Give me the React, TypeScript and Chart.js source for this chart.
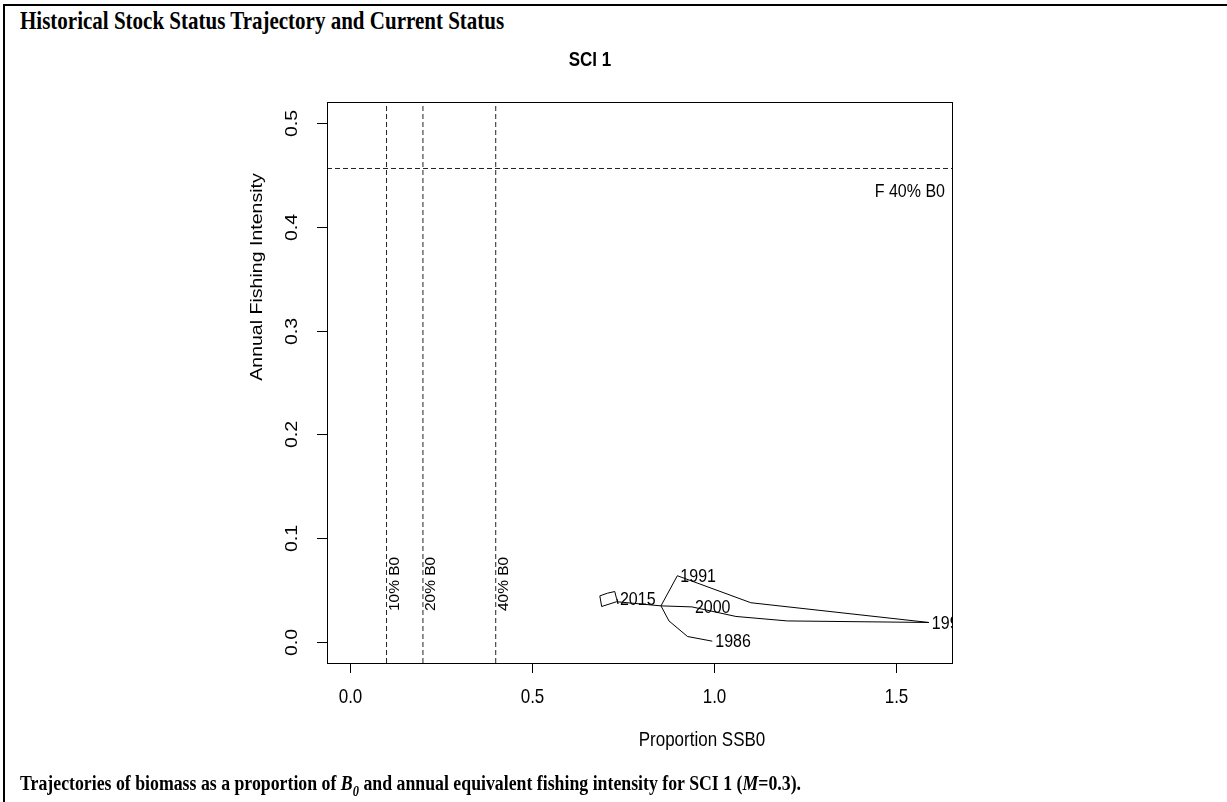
import React, { useEffect, useRef } from 'react';
import { Chart, registerables } from 'chart.js';

Chart.register(...registerables);

// Trajectory of spawning stock biomass (proportion of SSB0) against annual fishing intensity
const ssbProportion = [0.995, 0.927, 0.876, 0.854, 0.899, 1.101, 1.59, 1.201, 1.06, 0.939, 0.854, 0.732, 0.691, 0.686, 0.707, 0.727, 0.732, 0.736, 0.733];
const fishingIntensity = [0.001, 0.0055, 0.0205, 0.035, 0.064, 0.038, 0.019, 0.0205, 0.0248, 0.034, 0.035, 0.039, 0.0344, 0.0446, 0.0472, 0.0488, 0.042, 0.037, 0.042];
const pointLabels = ['1986', '', '', '', '1991', '', '1995', '', '', '2000', '', '', '', '', '', '', '', '', '2015'];

// Reference points
const biomassRefs = [0.1, 0.2, 0.4];
const biomassRefLabels = ['10% B0', '20% B0', '40% B0'];
const fishingRef = 0.456;
const fishingRefLabel = 'F 40% B0';

// Axis ticks and limits
const xTicks = [0, 0.5, 1.0, 1.5];
const xTickLabels = ['0.0', '0.5', '1.0', '1.5'];
const yTicks = [0, 0.1, 0.2, 0.3, 0.4, 0.5];
const yTickLabels = ['0.0', '0.1', '0.2', '0.3', '0.4', '0.5'];
const xLimits = [0, 1.59];
const yLimits = [0, 0.5];

const SANS = '"Liberation Sans", Arial, sans-serif';
const INK = '#000';
// the figure is taller than it is wide in device units, so glyphs are stretched vertically
const STRETCH = 1.15;

const ext = (lim: number[]) => {
  const d = (lim[1] - lim[0]) * 0.04;
  return [lim[0] - d, lim[1] + d];
};

// text laid horizontally
function hText(ctx: CanvasRenderingContext2D, s: string, x: number, y: number) {
  ctx.save();
  ctx.translate(x, y);
  ctx.scale(1, STRETCH);
  ctx.fillText(s, 0, 0);
  ctx.restore();
}

// text reading bottom to top
function vText(ctx: CanvasRenderingContext2D, s: string, x: number, y: number, k = STRETCH) {
  ctx.save();
  ctx.translate(x, y);
  ctx.rotate(-Math.PI / 2);
  ctx.scale(k, 1);
  ctx.fillText(s, 0, 0);
  ctx.restore();
}

const rPlotDecor = {
  id: 'rPlotDecor',
  afterDatasetsDraw(chart: any) {
    const { ctx, chartArea: a, scales } = chart;
    const xs = scales.x;
    const ys = scales.y;
    ctx.save();

    // year labels, clipped to the plot region
    ctx.save();
    ctx.beginPath();
    ctx.rect(a.left, a.top, a.right - a.left, a.bottom - a.top);
    ctx.clip();
    ctx.fillStyle = INK;
    ctx.font = `16px ${SANS}`;
    ctx.textAlign = 'left';
    ctx.textBaseline = 'middle';
    pointLabels.forEach((lab, i) => {
      if (!lab) return;
      const px = xs.getPixelForValue(ssbProportion[i]);
      const py = ys.getPixelForValue(fishingIntensity[i]);
      hText(ctx, lab, px + 3, py + 1);
    });

    // reference labels
    ctx.textAlign = 'right';
    hText(ctx, fishingRefLabel, a.right - 7, ys.getPixelForValue(fishingRef) + 23);
    ctx.font = `15.5px ${SANS}`;
    ctx.textAlign = 'left';
    biomassRefs.forEach((v, i) => {
      const px = xs.getPixelForValue(v);
      const py = ys.getPixelForValue(0.03);
      vText(ctx, biomassRefLabels[i], px + 8, py, 1);
    });
    ctx.restore();

    // plot box
    ctx.strokeStyle = INK;
    ctx.lineWidth = 1;
    ctx.strokeRect(Math.round(a.left) + 0.5, Math.round(a.top) + 0.5, Math.round(a.right - a.left), Math.round(a.bottom - a.top));

    // x axis ticks and labels
    ctx.fillStyle = INK;
    ctx.font = `17px ${SANS}`;
    ctx.textAlign = 'center';
    ctx.textBaseline = 'middle';
    xTicks.forEach((v, i) => {
      const px = Math.round(xs.getPixelForValue(v)) + 0.5;
      ctx.beginPath();
      ctx.moveTo(px, a.bottom);
      ctx.lineTo(px, a.bottom + 10);
      ctx.stroke();
      hText(ctx, xTickLabels[i], px, a.bottom + 35);
    });

    // y axis ticks and labels
    yTicks.forEach((v, i) => {
      const py = Math.round(ys.getPixelForValue(v)) + 0.5;
      ctx.beginPath();
      ctx.moveTo(a.left, py);
      ctx.lineTo(a.left - 10, py);
      ctx.stroke();
      vText(ctx, yTickLabels[i], a.left - 35, py);
    });

    // axis titles and panel title
    ctx.font = `17px ${SANS}`;
    hText(ctx, 'Proportion SSB0', 702, 741);
    vText(ctx, 'Annual Fishing Intensity', 257, 277);
    ctx.font = `bold 17px ${SANS}`;
    hText(ctx, 'SCI 1', 590, 61);

    ctx.restore();
  },
};

export default function App() {
  const canvasRef = useRef<HTMLCanvasElement>(null);

  useEffect(() => {
    document.body.style.margin = '0';
    const canvas = canvasRef.current;
    if (!canvas) return;
    const [x0, x1] = ext(xLimits);
    const [y0, y1] = ext(yLimits);

    const trajectory = ssbProportion.map((x, i) => ({ x, y: fishingIntensity[i] }));
    const dashed = { borderColor: '#222', borderWidth: 1, borderDash: [5, 3], pointRadius: 0, tension: 0 };

    const chart = new Chart(canvas, {
      type: 'line',
      data: {
        datasets: [
          ...biomassRefs.map((v) => ({ ...dashed, data: [{ x: v, y: y0 }, { x: v, y: y1 }] })),
          { ...dashed, data: [{ x: x0, y: fishingRef }, { x: x1, y: fishingRef }] },
          { data: trajectory, borderColor: INK, borderWidth: 1, pointRadius: 0, tension: 0 },
        ],
      },
      options: {
        animation: false,
        responsive: false,
        maintainAspectRatio: false,
        layout: { padding: { left: 327, top: 102, right: 275, bottom: 139 } },
        plugins: { legend: { display: false }, tooltip: { enabled: false } },
        scales: {
          x: { type: 'linear', min: x0, max: x1, display: false },
          y: { type: 'linear', min: y0, max: y1, display: false },
        },
      },
      plugins: [rPlotDecor],
    });
    return () => chart.destroy();
  }, []);

  const serifBlock = {
    position: 'absolute' as const,
    left: 20,
    whiteSpace: 'nowrap' as const,
    transform: `scaleY(${STRETCH})`,
    transformOrigin: 'left top',
    lineHeight: 1,
  };

  return (
    <div style={{ position: 'relative', width: 1227, height: 802, background: '#fff', overflow: 'hidden' }}>
      <div
        style={{
          position: 'absolute',
          left: 3,
          top: 4,
          width: 1240,
          height: 820,
          borderLeft: '2px solid #000',
          borderTop: '2px solid #000',
        }}
      />
      <div style={{ ...serifBlock, top: 7, font: 'bold 21px "Liberation Serif", "Times New Roman", serif' }}>
        Historical Stock Status Trajectory and Current Status
      </div>
      <canvas ref={canvasRef} width={1227} height={802} style={{ position: 'absolute', left: 0, top: 0 }} />
      <div style={{ ...serifBlock, top: 772, font: 'bold 17.8px "Liberation Serif", "Times New Roman", serif' }}>
        Trajectories of biomass as a proportion of <i>B<sub style={{ fontSize: '70%', lineHeight: 0 }}>0</sub></i> and
        annual equivalent fishing intensity for SCI 1 (<i>M</i>=0.3).
      </div>
    </div>
  );
}
